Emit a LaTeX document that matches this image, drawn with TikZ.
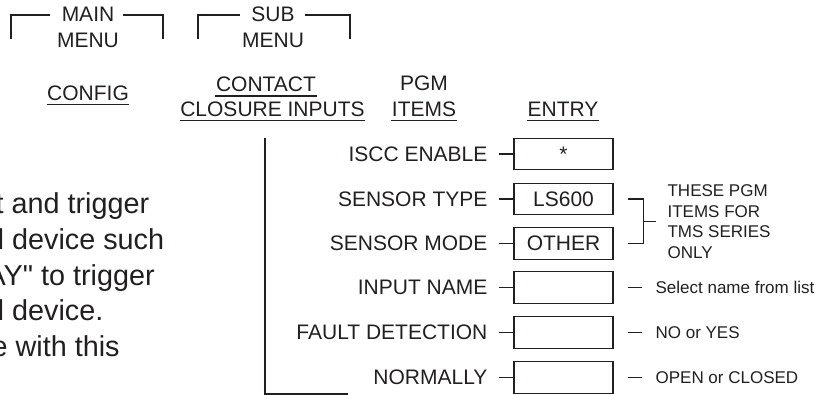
\documentclass[tikz,border=0pt]{standalone}
\usepackage{fontspec}
\setmainfont{Liberation Sans}
\usepackage{tikz}
\definecolor{ink}{RGB}{35,31,32}
\font\plainqt="Liberation Sans" at 28.8pt

\begin{document}
\begin{tikzpicture}[x=1pt,y=-1pt,color=ink,line width=1.2pt,
  every node/.style={inner sep=0pt},
  lbl/.style={font=\fontsize{21}{25}\selectfont},
  entbox/.style={draw, line width=1.2pt, minimum width=99pt, minimum height=31.5pt, font=\fontsize{21}{25}\selectfont},
  note/.style={font=\fontsize{17}{20.7}\selectfont, anchor=west, align=left},
  para/.style={font=\fontsize{28.8}{34}\selectfont, anchor=base west}]
\useasboundingbox (0,0) rectangle (834,395);
\clip (0,0) rectangle (834,395);

%Menu brackets
\node[lbl, anchor=base] (mainA) at (88,21.5) {MAIN};
\node[lbl, anchor=base] (mainB) at (88,47.5) {MENU};
\draw (11,39) |- (50,15);
\draw (123,15) -| (163,39);
\node[lbl, anchor=base] (subA) at (273,21.5) {SUB};
\node[lbl, anchor=base] (subB) at (273,47.5) {MENU};
\draw (198,39) |- (240,15);
\draw (305,15) -| (350,39);

%Column heads
\node[lbl, anchor=base] (cfg) at (88,101) {CONFIG};
\draw ([yshift=-3.5pt]cfg.base west) -- ([yshift=-3.5pt]cfg.base east);
\node[lbl, anchor=base] (cont) at (266,91.5) {CONTACT};
\draw ([yshift=-4.5pt]cont.base west) -- ([yshift=-4.5pt]cont.base east);
\node[lbl, anchor=base] (clos) at (272.5,116.5) {CLOSURE INPUTS};
\draw ([yshift=-4pt]clos.base west) -- ([yshift=-4pt]clos.base east);
\node[lbl, anchor=base] (pgm) at (424,91) {PGM};
\node[lbl, anchor=base] (items) at (424,116.5) {ITEMS};
\draw ([yshift=-4pt]items.base west) -- ([yshift=-4pt]items.base east);
\node[lbl, anchor=base] (entry) at (563,116.5) {ENTRY};
\draw ([yshift=-4pt]entry.base west) -- ([yshift=-4pt]entry.base east);

%Left bracket
\coordinate (brtop) at (265,138);
\coordinate (brend) at (348,394);
\draw (brtop) |- (brend);

%Entry boxes
\node[entbox] (eiscc) at (563.5,154) {*};
\node[entbox] (etype) at (563.5,199) {LS600};
\node[entbox] (emode) at (563.5,243.5) {OTHER};
\node[entbox] (ename) at (563.5,287.5) {};
\node[entbox] (efault) at (563.5,332.5) {};
\node[entbox] (enorm) at (563.5,377.5) {};

%PGM items
\node[lbl, anchor=east] (liscc) at (488,154) {ISCC ENABLE};
\node[lbl, anchor=east] (ltype) at (488,199) {SENSOR TYPE};
\node[lbl, anchor=east] (lmode) at (488,243.5) {SENSOR MODE};
\node[lbl, anchor=east] (lname) at (488,287.5) {INPUT NAME};
\node[lbl, anchor=east] (lfault) at (488,332.5) {FAULT DETECTION};
\node[lbl, anchor=east] (lnorm) at (488,377.5) {NORMALLY};
\draw ([xshift=11pt]liscc.east) -- (eiscc.west);
\draw ([xshift=11pt]ltype.east) -- (etype.west);
\draw ([xshift=11pt]lmode.east) -- (emode.west);
\draw ([xshift=11pt]lname.east) -- (ename.west);
\draw ([xshift=11pt]lfault.east) -- (efault.west);
\draw ([xshift=11pt]lnorm.east) -- (enorm.west);

%Notes
\node[note] (ntms) at (667,221.5) {THESE PGM\\ITEMS FOR\\TMS SERIES\\ONLY};
\coordinate (brmid) at (643,221.5);
\draw ([xshift=14pt]etype.east) -- ([xshift=30pt]etype.east) -- ([xshift=30pt]emode.east) -- ([xshift=14pt]emode.east);
\draw (brmid) -- ([xshift=-11pt]ntms.west);
\node[note] (nname) at (655,287.5) {Select name from list};
\node[note] (nfault) at (655,332.5) {NO or YES};
\node[note] (nnorm) at (655,377.5) {OPEN or CLOSED};
\draw ([xshift=14pt]ename.east) -- ([xshift=-13pt]nname.west);
\draw ([xshift=14pt]efault.east) -- ([xshift=-13pt]nfault.west);
\draw ([xshift=14pt]enorm.east) -- ([xshift=-13pt]nnorm.west);

%Paragraph (cut at left edge)
\node[para] (p1) at (-5,214) {t and trigger};
\node[para] (p2) at (-12.5,249.5) {d device such};
\node[para] (p3) at (-14,285) {AY{\plainqt"} to trigger};
\node[para] (p4) at (-12.5,320.5) {d device.};
\node[para] (p5) at (-9,356) {e with this};

\end{tikzpicture}
\end{document}
